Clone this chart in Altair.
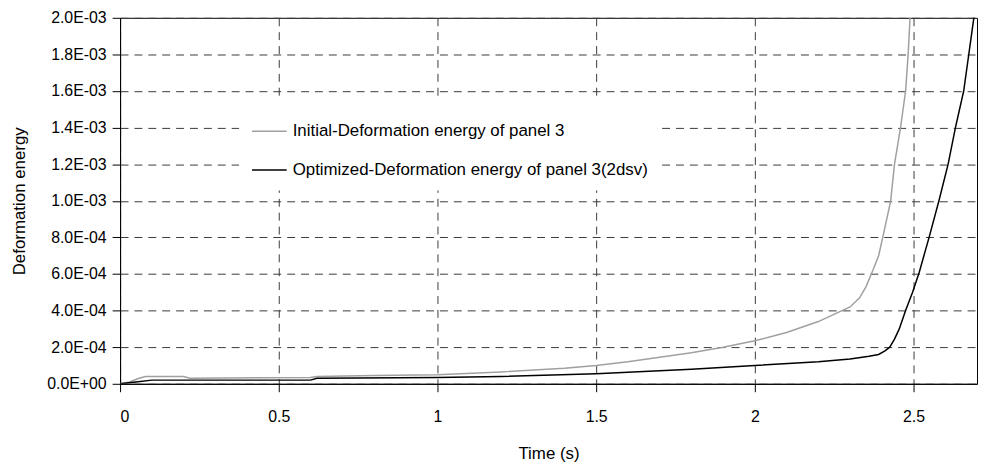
import altair as alt
import pandas as pd

# ---- data ----
series_names = [
    "Initial-Deformation energy of panel 3",
    "Optimized-Deformation energy of panel 3(2dsv)",
]
series_colors = ["#a0a0a0", "#000000"]

t_initial = [0, 0.03, 0.06, 0.08, 0.2, 0.22, 0.6, 0.62, 0.8, 1.0, 1.2, 1.4, 1.5,
             1.6, 1.7, 1.8, 1.9, 2.0, 2.1, 2.2, 2.3, 2.33, 2.35, 2.372, 2.39,
             2.403, 2.428, 2.44, 2.459, 2.475, 2.483, 2.489, 2.492]
e_initial = [0, 0.1e-4, 0.3e-4, 0.4e-4, 0.4e-4, 0.3e-4, 0.35e-4, 0.4e-4, 0.45e-4,
             0.5e-4, 0.65e-4, 0.85e-4, 1.0e-4, 1.2e-4, 1.45e-4, 1.7e-4, 2.0e-4,
             2.35e-4, 2.8e-4, 3.4e-4, 4.2e-4, 4.7e-4, 5.3e-4, 6.2e-4, 7.0e-4,
             8.0e-4, 10.0e-4, 12.0e-4, 14.0e-4, 16.0e-4, 18.0e-4, 20.0e-4, 21.0e-4]

t_opt = [0, 0.05, 0.1, 0.6, 0.62, 1.0, 1.2, 1.5, 1.8, 2.0, 2.2, 2.3, 2.36, 2.39,
         2.41, 2.425, 2.44, 2.455, 2.475, 2.497, 2.518, 2.549, 2.58, 2.609,
         2.632, 2.658, 2.69, 2.7]
e_opt = [0, 0.1e-4, 0.2e-4, 0.2e-4, 0.3e-4, 0.35e-4, 0.4e-4, 0.55e-4, 0.8e-4,
         1.0e-4, 1.2e-4, 1.35e-4, 1.5e-4, 1.6e-4, 1.8e-4, 2.0e-4, 2.44e-4,
         3.0e-4, 4.0e-4, 5.0e-4, 6.1e-4, 8.0e-4, 10.0e-4, 12.0e-4, 14.0e-4,
         16.0e-4, 20.0e-4, 21.3e-4]

x_ticks = [0, 0.5, 1, 1.5, 2, 2.5]
y_ticks = [0, 0.0002, 0.0004, 0.0006, 0.0008, 0.001, 0.0012, 0.0014, 0.0016,
           0.0018, 0.002]

df = pd.concat([
    pd.DataFrame({"t": t_initial, "e": e_initial, "series": series_names[0]}),
    pd.DataFrame({"t": t_opt, "e": e_opt, "series": series_names[1]}),
])

FONT = "Liberation Sans"

chart = alt.Chart(df).mark_line(strokeWidth=1.5, clip=True).encode(
    x=alt.X("t:Q",
            scale=alt.Scale(domain=[0, 2.7], nice=False, zero=False),
            axis=alt.Axis(values=x_ticks, title="Time (s)",
                          labelExpr="'' + datum.value",
                          labelPadding=17,
                          titleX=432, titleY=70, titleBaseline="middle")),
    y=alt.Y("e:Q",
            scale=alt.Scale(domain=[0, 0.002], nice=False),
            axis=alt.Axis(values=y_ticks, title="Deformation energy",
                          labelExpr="replace(replace(format(datum.value, '.1e'), 'e-', 'E-0'), 'e+', 'E+0')",
                          labelPadding=6,
                          titleX=-101, titleY=184.5, titleAngle=-90,
                          titleBaseline="middle")),
    color=alt.Color("series:N",
                    scale=alt.Scale(domain=series_names, range=series_colors),
                    legend=alt.Legend(
                        title=None, orient="none", legendX=120, legendY=84,
                        fillColor="white", padding=12,
                        symbolType="stroke", symbolSize=1225,
                        symbolStrokeWidth=1.5, labelOffset=5, rowPadding=12,
                        labelFont=FONT, labelFontSize=17, labelColor="black",
                        labelLimit=600)),
).properties(
    width=864, height=369,
    autosize=alt.AutoSizeParams(type="none"),
    padding={"left": 113, "top": 8, "right": 2, "bottom": 80},
).configure(
    font=FONT,
).configure_axis(
    domainColor="black", domainWidth=1,
    tickColor="black", tickSize=8, tickWidth=1,
    labelColor="black", labelFont=FONT, labelFontSize=16,
    titleColor="black", titleFont=FONT, titleFontSize=17,
    titleFontWeight="normal",
    grid=True, gridColor="#3a3a3a", gridDash=[8, 6], gridWidth=1,
).configure_view(
    stroke="black", strokeWidth=1,
)

chart.save("out.html", embed_options={"renderer": "svg", "actions": False})
